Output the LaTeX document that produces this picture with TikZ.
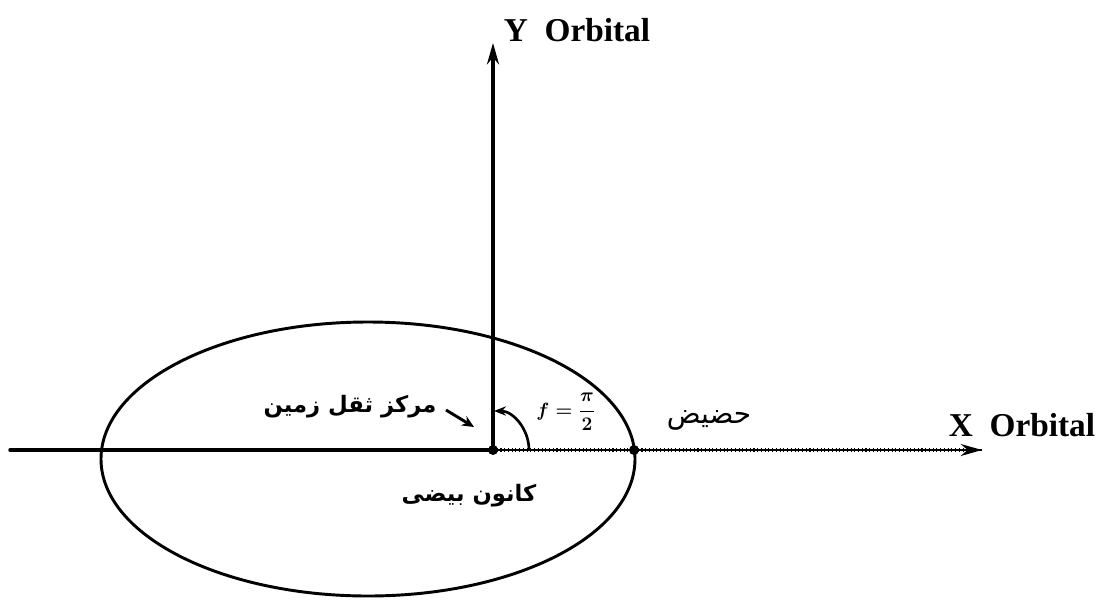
\documentclass[tikz,border=0pt]{standalone}
\usepackage{fontspec}
\setmainfont{Liberation Serif}
\newfontfamily\arabicfont[Script=Arabic]{DejaVu Sans}
\TeXXeTstate=1
\usetikzlibrary{arrows.meta}
\begin{document}
\begin{tikzpicture}[x=0.75pt,y=-0.75pt,
  axisline/.style={line width=2.6pt,line cap=round},
  thinaxis/.style={line width=1.7pt},
  tickline/.style={line width=2.6pt,dash pattern=on 0.8pt off 2pt},
  dotnode/.style={circle,fill=black,inner sep=0pt,minimum size=7.5pt},
  axlabel/.style={font=\fontsize{25}{28}\selectfont\bfseries,inner sep=0pt},
  falabel/.style={font=\arabicfont\fontsize{17}{20}\selectfont\bfseries,inner sep=0pt},
  bigtip/.style={-{Stealth[length=16pt,width=9pt]}}
]
\useasboundingbox (0,0) rectangle (1104,601);
% ellipse
\draw[line width=2.2pt] (368,459) ellipse [x radius=267, y radius=137];
% nodes
\node[dotnode] (F) at (493,450) {};
\node[dotnode] (P) at (634,450) {};
\coordinate (L) at (10,450);
\coordinate (Xend) at (982,450);
\coordinate (Yend) at (493,43);
% X axis: solid part
\draw[axisline] (L) -- (F.center);
% X axis: ticked part
\draw[thinaxis] (F.center) -- (P.center);
\draw[tickline] (F.center) -- (P.center);
\draw[thinaxis] (P.center) -- (Xend);
\draw[tickline] (P.center) -- ([xshift=-12pt]Xend);
\draw[thinaxis,bigtip] ([xshift=-16pt]Xend) -- (Xend);
% Y axis
\draw[axisline,bigtip] (F.center) -- (Yend);
% angle arc
\coordinate (A0) at (529,450);
\coordinate (A1) at (494,411);
\draw[line width=2pt,-{Stealth[length=9pt,width=7pt]}] (A0) .. controls (529,429) and (513,411) .. (A1);
% labels
\node[axlabel] (ylab) at (577,30) {Y\ \ Orbital};
\node[axlabel] (xlab) at (1022,425) {X\ \ Orbital};
\node[font={\fontsize{14}{16}\selectfont\boldmath},inner sep=0pt] (flab) at (566,412) {$\displaystyle f=\frac{\pi}{2}$};
\node[falabel] (cg) at (350,407) {\beginR مرکز ثقل زمین\endR};
\node[falabel] (foc) at (469,496) {\beginR کانون بیضی\endR};
\node[font=\arabicfont\fontsize{21}{24}\selectfont,inner sep=0pt] (per) at (709,420) {\beginR حضیض\endR};
% arrow from label to focus
\coordinate (c1) at (446,410);
\coordinate (c2) at (474,427);
\draw[line width=2.2pt,-{Stealth[length=9pt,width=8pt]}] (c1) -- (c2);
\end{tikzpicture}
\end{document}
